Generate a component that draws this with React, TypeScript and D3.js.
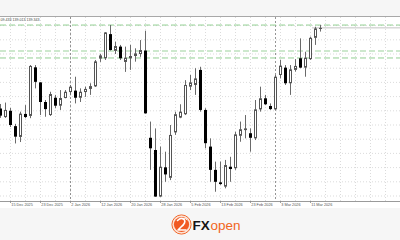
import React from 'react';
import * as d3 from 'd3';

const dates = [
  '2025-12-11','2025-12-12','2025-12-15','2025-12-16','2025-12-17','2025-12-18','2025-12-19','2025-12-22','2025-12-23','2025-12-24',
  '2025-12-26','2025-12-29','2025-12-30','2025-12-31','2026-01-02','2026-01-05','2026-01-06','2026-01-07','2026-01-08','2026-01-09',
  '2026-01-12','2026-01-13','2026-01-14','2026-01-15','2026-01-16','2026-01-19','2026-01-20','2026-01-21','2026-01-22','2026-01-23',
  '2026-01-26','2026-01-27','2026-01-28','2026-01-29','2026-01-30','2026-02-02','2026-02-03','2026-02-04','2026-02-05','2026-02-06',
  '2026-02-09','2026-02-10','2026-02-11','2026-02-12','2026-02-13','2026-02-16','2026-02-17','2026-02-18','2026-02-19','2026-02-20',
  '2026-02-23','2026-02-24','2026-02-25','2026-02-26','2026-02-27','2026-03-02','2026-03-03','2026-03-04','2026-03-05','2026-03-06',
  '2026-03-09','2026-03-10','2026-03-11','2026-03-12','2026-03-13'
];

const open = [
  136.58,136.28,136.50,135.96,135.58,136.39,136.32,138.03,137.50,136.81,
  136.35,136.96,136.68,136.95,137.16,137.21,136.96,137.16,137.27,137.36,
  138.34,138.35,139.20,138.61,138.76,138.22,138.35,138.43,138.50,138.62,
  135.55,135.12,133.48,134.51,134.14,135.74,136.26,136.38,137.35,137.41,
  137.94,136.53,135.24,134.42,133.98,133.83,134.53,134.48,135.62,135.82,
  135.71,135.53,136.55,136.94,136.67,136.55,137.76,138.02,137.47,137.94,
  138.35,138.02,138.32,139.07,139.38
];
const high = [
  136.74,136.79,136.60,136.04,136.47,136.70,138.11,138.11,137.51,136.88,
  137.17,137.06,137.23,137.23,137.41,137.70,137.29,137.35,137.47,138.29,
  138.50,139.27,139.52,138.93,138.82,138.76,138.82,138.70,138.99,139.32,
  136.12,135.88,135.24,135.06,136.00,136.47,136.73,137.58,137.76,138.00,
  138.05,136.59,135.53,134.71,134.71,134.77,134.88,135.76,136.12,136.35,
  135.88,136.88,137.35,137.06,136.76,137.76,138.29,138.11,138.11,138.32,
  139.05,138.58,139.11,139.46,139.52
];
const low = [
  136.25,136.25,135.93,135.35,135.40,136.24,136.24,137.29,136.35,136.29,
  136.32,136.59,136.53,136.94,137.06,136.76,136.81,136.99,137.06,137.34,
  138.22,138.29,138.62,138.50,138.29,137.87,137.94,138.23,138.40,136.40,
  134.42,133.47,133.47,134.00,134.06,135.65,136.24,136.35,137.23,137.06,
  136.47,135.18,134.00,133.65,133.89,133.77,134.00,134.42,135.41,135.53,
  135.06,135.47,136.47,136.70,136.53,136.53,137.64,137.41,137.06,137.88,
  138.00,137.70,138.29,138.82,139.29
];
const close = [
  136.33,136.53,136.00,135.59,136.40,136.28,138.08,137.52,136.81,136.56,
  137.09,136.68,136.95,137.17,137.35,136.96,137.17,137.27,137.37,138.24,
  138.45,139.26,138.64,138.78,138.35,138.37,138.43,138.52,138.64,136.41,
  135.18,133.48,134.53,134.26,135.65,136.38,136.47,137.41,137.50,137.64,
  136.53,135.36,134.42,134.00,133.92,134.59,134.45,135.67,135.85,135.88,
  135.55,136.55,136.94,136.73,136.56,137.70,138.09,137.47,137.96,138.08,
  138.02,138.37,139.07,139.40,139.42
];

const tickDates = ['2025-12-15','2025-12-23','2026-01-02','2026-01-12','2026-01-20','2026-01-28','2026-02-05','2026-02-13','2026-02-23','2026-03-03','2026-03-11'];
const separatorDates = ['2026-01-02','2026-03-02'];
const greenLevels = [139.52, 138.36];
const greenWideLevels = [138.61];
const bidPrice = 139.42;
const infoText = '09.433 139.013 139.343';
const gridPrices = [133.5,134,134.5,135,135.5,136,136.5,137,137.5,138,138.5,139,139.5];

export default function App() {
  const W = 400, H = 240;
  const x = d3.scaleLinear().domain([0, dates.length - 1]).range([0, 320]);
  const y = d3.scaleLinear().domain([133.5, 139.5]).range([196, 25.6]);
  const parse = d3.utcParse('%Y-%m-%d');
  const fmt = d3.utcFormat('%-d %b %Y');
  const idx = (d: string) => dates.indexOf(d);
  const px = (i: number) => Math.round(x(i));

  const vGrid: number[] = [];
  for (let i = -1; i <= 80; i += 3) vGrid.push(px(i) + 0.5);

  const plotTop = 16, axisY = 201;

  return (
    <svg width={W} height={H} style={{ position: 'fixed', left: 0, top: 0, display: 'block' }}
      fontFamily="'Liberation Sans', Arial, sans-serif">
      <rect x={0} y={0} width={W} height={H} fill="#f6f6f6" />
      <rect x={0} y={plotTop} width={W} height={208 - plotTop} fill="#ffffff" />
      <line x1={0} x2={W} y1={plotTop + 0.5} y2={plotTop + 0.5} stroke="#a8a8a8" strokeWidth={1} />

      {gridPrices.map((p) => (
        <line key={'h' + p} x1={0} x2={W} y1={y(p)} y2={y(p)} stroke="#d2d2d2" strokeWidth={0.8} strokeDasharray="1 2" />
      ))}
      {vGrid.map((gx) => (
        <line key={'v' + gx} x1={gx} x2={gx} y1={plotTop + 1} y2={axisY} stroke="#d2d2d2" strokeWidth={0.8} strokeDasharray="1 2" />
      ))}
      {separatorDates.map((d) => (
        <line key={'s' + d} x1={px(idx(d)) + 0.5} x2={px(idx(d)) + 0.5} y1={plotTop + 1} y2={axisY}
          stroke="#7a7a7a" strokeWidth={0.8} strokeDasharray="2 2" />
      ))}

      {greenLevels.map((p) => (
        <line key={'g' + p} x1={0} x2={W} y1={y(p)} y2={y(p)} stroke="#92cf92" strokeWidth={1} strokeDasharray="6 3" />
      ))}
      {greenWideLevels.map((p) => (
        <line key={'gw' + p} x1={0} x2={W} y1={y(p)} y2={y(p)} stroke="#cde8cd" strokeWidth={2} strokeDasharray="6 3" />
      ))}
      <line x1={312} x2={W} y1={y(bidPrice)} y2={y(bidPrice)} stroke="#b5b5b5" strokeWidth={0.8} />

      {dates.map((d, i) => {
        const cx = px(i);
        const o = open[i], c = close[i];
        const top = y(Math.max(o, c));
        const bot = y(Math.min(o, c));
        const bull = c >= o;
        return (
          <g key={d}>
            <line x1={cx + 0.5} x2={cx + 0.5} y1={y(high[i])} y2={y(low[i])} stroke="#6a6a6a" strokeWidth={1} />
            {bull ? (
              <rect x={cx - 0.5} y={top + 0.5} width={2} height={Math.max(0, bot - top - 1)} fill="#ffffff" stroke="#555" strokeWidth={1} />
            ) : (
              <rect x={cx - 1} y={top} width={3} height={Math.max(1, bot - top)} fill="#000000" />
            )}
          </g>
        );
      })}

      <text x={0.5} y={20.8} fontSize={3.6} fill="#444">{infoText}</text>

      <line x1={0} x2={W} y1={axisY + 0.5} y2={axisY + 0.5} stroke="#9a9a9a" strokeWidth={1} />
      {tickDates.map((d) => {
        const tx = px(idx(d)) + 0.5;
        return (
          <g key={'t' + d}>
            <line x1={tx} x2={tx} y1={axisY} y2={axisY + 2} stroke="#888" strokeWidth={0.8} />
            <text x={tx + 0.8} y={206} fontSize={3.8} fill="#555">{fmt(parse(d) as Date)}</text>
          </g>
        );
      })}

      <g>
        <circle cx={181.5} cy={224.5} r={9.6} fill="#fbe3d6" stroke="#f26a2e" strokeWidth={1} />
        <circle cx={181.5} cy={224.5} r={7.6} fill="#f15a22" />
        <path d="M177.5 220.5 Q181.5 216.5 184.5 220 Q186 223 181 227 L178 230 L186 230"
          fill="none" stroke="#ffffff" strokeWidth={1.6} strokeLinecap="round" strokeLinejoin="round" />
        <path d="M183 219 Q185.5 217.5 187 219.5" fill="none" stroke="#ffffff" strokeWidth={1} strokeLinecap="round" />
        <text x={192.5} y={230} fontSize={13.5} fontWeight="bold" fill="#151515">FX</text>
        <text x={210.5} y={230} fontSize={13.5} fill="#f26522">open</text>
      </g>
    </svg>
  );
}
